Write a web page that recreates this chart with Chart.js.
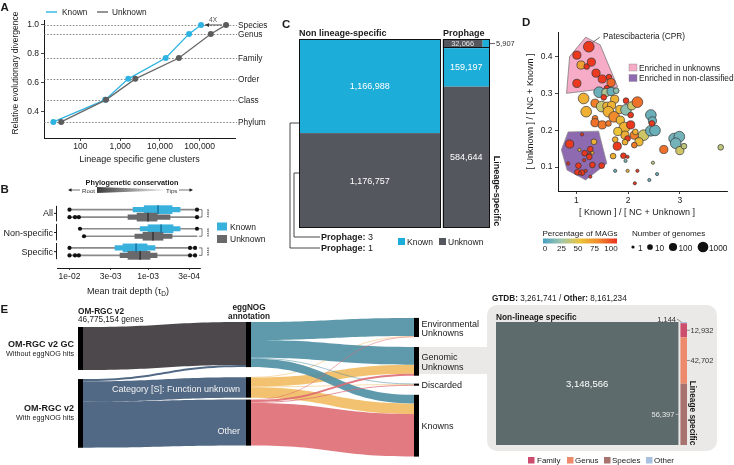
<!DOCTYPE html>
<html><head><meta charset="utf-8">
<script src="https://cdn.jsdelivr.net/npm/chart.js@4.4.1/dist/chart.umd.min.js"></script>
<style>
html,body{margin:0;padding:0;background:#fff;}
#wrap{position:relative;width:734px;height:465px;overflow:hidden;background:#fff;}
#wrap canvas,#wrap svg{position:absolute;left:0;top:0;}
.bg{position:absolute;background:#ebe9e7;}
</style></head><body>
<div id="wrap">
<div class="bg" style="left:487px;top:305px;width:230px;height:146px;border-radius:10px"></div>
<div class="bg" style="left:419px;top:347px;width:70px;height:27px"></div>
<canvas id="cA" width="734" height="465"></canvas>
<canvas id="cB" width="734" height="465"></canvas>
<canvas id="cC" width="734" height="465"></canvas>
<canvas id="cD" width="734" height="465"></canvas>
<canvas id="cE" width="734" height="465"></canvas>
<canvas id="cE2" width="734" height="465"></canvas>
<svg id="ann" width="734" height="465" xmlns="http://www.w3.org/2000/svg" font-family="'Liberation Sans', Arial, Helvetica, sans-serif"></svg>
</div>
<script>
// ================= DATA =================
// A: rank REDs and lineage-specific gene clusters
const aRanks = ['Phylum','Class','Order','Family','Genus','Species'];
const aRED = [0.331,0.483,0.628,0.772,0.938,1.0];
const aKnownClusters = [21,420,1600,14000,54000,108000];
const aUnknownClusters = [33,440,2400,30000,190000,460000];
const aXTicks = [100,1000,10000,100000];
const aYTicks = [0.4,0.6,0.8,1.0];

// B: mean trait depth letter-value summaries (rows: All K/U, Non-specific K/U, Specific K/U)
const bGroups = ['All','Non-specific','Specific'];
const bSeries = ['Known','Unknown'];
const bWhiskerLo = [2.38e-4,2.38e-4,2.38e-4,2.38e-4,2.52e-4,2.52e-4];
const bWhiskerHi = [1.0e-2,1.0e-2,7.35e-3,6.53e-3,1.0e-2,1.0e-2];
const bOuterLo = [3.91e-4,5.25e-4,3.91e-4,4.94e-4,8.15e-4,7.68e-4];
const bOuterHi = [1.55e-3,1.80e-3,1.26e-3,1.47e-3,2.63e-3,2.27e-3];
const bBoxLo = [4.94e-4,7.68e-4,4.81e-4,6.44e-4,1.03e-3,9.43e-4];
const bBoxHi = [1.12e-3,1.38e-3,1.0e-3,1.16e-3,2.08e-3,1.80e-3];
const bMedian = [7.46e-4,1.0e-3,6.83e-4,8.64e-4,1.42e-3,1.26e-3];
const bOutliers = [[1.0e-2,2.38e-4],[1.0e-2,8.5e-3,7.6e-3,2.38e-4],[7.35e-3,2.38e-4],[6.53e-3],[1.0e-2,2.92e-4,2.52e-4],[1.0e-2,8.5e-3,7.6e-3,2.92e-4,2.52e-4]];
const bXTicks = [1e-2,3e-3,1e-3,3e-4];

// C: mosaic counts
const cColumns = ['Non lineage-specific','Lineage-specific'];
const cKnown = [1166988,159197];
const cUnknown = [1176757,584644];
const cProphageUnknown = 32066;
const cProphageKnown = 5907;

// D: bubble data
const dX = [1.24,1.01,1.09,1.20,1.29,1.38,1.50,1.63,1.67,1.01,1.59,
1.44,1.57,1.67,1.77,1.14,1.53,1.74,1.19,1.36,1.49,1.59,1.68,1.62,1.73,1.84,1.96,1.96,2.07,2.18,1.36,1.36,1.50,1.62,1.85,1.93,2.05,2.05,1.94,1.80,2.12,2.30,2.44,2.47,2.44,2.52,2.46,2.14,2.21,2.12,1.99,1.94,1.79,1.75,2.69,2.89,2.99,2.92,3.00,3.08,3.79,1.71,1.91,1.99,1.95,2.48,1.75,1.99,2.18,2.56,2.41,2.13,
0.87,1.11,1.06,1.16,1.27,1.34,1.25,1.31,1.25,1.15,0.84,1.04,1.31,1.49,1.02,1.11,1.18,1.07,1.27];
const dY = [0.428,0.405,0.378,0.374,0.386,0.356,0.340,0.345,0.330,0.328,0.315,
0.304,0.303,0.306,0.308,0.287,0.290,0.285,0.251,0.274,0.265,0.266,0.268,0.251,0.237,0.257,0.281,0.256,0.267,0.277,0.233,0.221,0.215,0.219,0.228,0.208,0.215,0.242,0.187,0.197,0.187,0.187,0.242,0.226,0.199,0.200,0.219,0.196,0.169,0.160,0.178,0.168,0.157,0.175,0.148,0.178,0.183,0.165,0.145,0.157,0.154,0.130,0.131,0.128,0.117,0.112,0.090,0.090,0.090,0.081,0.065,0.056,
0.163,0.189,0.147,0.138,0.149,0.169,0.135,0.139,0.128,0.119,0.110,0.104,0.106,0.104,0.086,0.085,0.090,0.083,0.074];
const dPctMAGs = [98,98,65,100,98,98,98,98,85,98,100,
10,30,10,20,58,98,58,58,78,38,58,58,58,75,55,98,20,40,82,80,82,80,80,55,58,98,98,60,50,78,40,10,10,10,10,98,58,55,80,98,58,98,58,82,12,12,12,40,35,35,58,98,100,15,35,10,58,98,10,10,98,
98,98,58,98,98,58,98,58,98,98,98,98,98,98,98,98,98,98,98];
const dGenomes = [1000,100,100,10,100,100,100,10,100,100,10,
1000,100,100,10,1000,10,100,1000,100,1000,100,100,1000,1000,100,10,1000,100,1000,10,100,100,10,100,1000,100,10,100,100,100,1000,1000,100,1000,1000,10,10,100,10,10,10,100,10,100,1000,1000,1000,100,10,10,10,10,1,1,1,1,1,1,1,1,1,
100,1,1,10,10,10,1,1,10,1,1,10,10,10,10,10,1,1,1];
const dUnknownHullX = [1.18,1.46,1.80,0.81,0.87];
const dUnknownHullY = [0.454,0.433,0.318,0.301,0.401];
const dNCHullX = [0.84,1.43,1.59,1.18,0.82,0.71];
const dNCHullY = [0.196,0.198,0.110,0.065,0.092,0.147];
const dXTicks = [1,2,3];
const dYTicks = [0.1,0.2,0.3,0.4];

// E: sankey (millions of genes)
const eNodeNames = ['OM-RGC v2 GC','OM-RGC v2','No eggNOG hit','Category [S]: Function unknown','Other','Environmental Unknowns','Genomic Unknowns','Discarded','Knowns'];
const eNodeStage = [0,0,1,1,1,2,2,2,2];
const eFlowFrom = [0,1,1,1, 2,2,2,2, 3,3,3,3, 4,4,4,4];
const eFlowTo   = [2,2,3,4, 5,6,7,8, 5,6,7,8, 5,6,7,8];
const eFlowMillions = [18.0,0.9,8.6,19.28, 7.6,7.4,0.3,3.6, 0.2,3.8,0.2,4.4, 0.2,0.8,0.4,17.88];

// E2: GTDB mosaic
const e2NonLineage = 3148566;
const e2Ranks = ['Other','Family','Genus','Species'];
const e2Lineage = [1144,12932,42702,56397];
const e2OtherTotal = 8161234;

// ================= STYLE / LAYOUT =================
const FONT = "'Liberation Sans', Arial, Helvetica, sans-serif";
Chart.defaults.font.family = FONT;
Chart.defaults.font.size = 8.5;
Chart.defaults.color = '#1a1a1a';
const W = 734, H = 465;
const INK = '#1a1a1a';
const KNOWN_A = '#2db3e2', UNK_A = '#686868';
const KNOWN_B = '#38b1dd', UNK_B = '#69696c', KNOWN_B_MED = '#1c7aa3', UNK_B_MED = '#3a3a3c';
const KNOWN_C = '#1dadd9', UNK_C = '#55575f';
const E_FLOW_COLORS = ['#3a3437','#3e5977','#4e8fa3','#f1bb61','#de6b73'];
const E2_COLORS = {Other:'#a9c0e0', Family:'#cc4d6e', Genus:'#ec8a6b', Species:'#a8736f', Non:'#5d6b6c'};
const MOSAIC_GAP = 0.0106;
const B_STEP = 2.55;
const eLayout = {stageStart:[11.3,9.2,7.5], stageGaps:[[3.8],[4.2,0.8],[4.2,3.3,3.8]], nodeWidth:5, drawOrder:[0,1,3,2,4]};
const pctStops = [[0,[72,160,196]],[25,[160,198,170]],[50,[236,196,56]],[75,[241,138,45]],[100,[233,50,30]]];
function pctColor(p){
  for (let i=1;i<pctStops.length;i++){
    if (p<=pctStops[i][0]){
      const [p0,c0]=pctStops[i-1],[p1,c1]=pctStops[i]; const t=(p-p0)/(p1-p0);
      return 'rgb('+c0.map((c,j)=>Math.round(c+(c1[j]-c)*t)).join(',')+')';
    }
  }
  return 'rgb(233,50,30)';
}
const sizeR = n => 1.6 + 1.25*Math.log10(n);
const fmtN = v => v.toLocaleString('en-US');
function fmtE(v){ const [m,e]=v.toExponential(0).split('e'); const n=parseInt(e,10); return m+'e'+(n<0?'-':'+')+String(Math.abs(n)).padStart(2,'0'); }
function pad(x0,y0,x1,y1,lw,bh){ return {left:x0-(lw||0), top:y0, right:W-x1, bottom:H-y1-(bh||0)}; }
const base = {responsive:false, animation:false, devicePixelRatio:1, events:[], plugins:{legend:{display:false}, tooltip:{enabled:false}}};
const gridT = {display:true, drawOnChartArea:false, drawTicks:true, tickLength:3, color:INK, lineWidth:0.8};
const borderT = {display:true, color:INK, width:1};

// ================= A =================
const aPlugin = {
  id:'aLines',
  beforeDatasetsDraw(ch){
    const {ctx, chartArea:ca, scales:{y}} = ch;
    ctx.save(); ctx.strokeStyle='#6a6a6a'; ctx.lineWidth=0.8; ctx.setLineDash([1.6,1.6]);
    aRED.forEach(v=>{ const py=Math.round(y.getPixelForValue(v))+0.5; ctx.beginPath(); ctx.moveTo(ca.left,py); ctx.lineTo(ca.right+2,py); ctx.stroke(); });
    ctx.restore();
  },
  afterDatasetsDraw(ch){
    const {ctx, scales:{x,y}} = ch; const n=aRED.length-1;
    const py=y.getPixelForValue(aRED[n]);
    const x1=x.getPixelForValue(aKnownClusters[n])+4, x2=x.getPixelForValue(aUnknownClusters[n])-4;
    ctx.save(); ctx.strokeStyle='#333'; ctx.fillStyle='#333'; ctx.lineWidth=0.8;
    ctx.beginPath(); ctx.moveTo(x1,py); ctx.lineTo(x2,py); ctx.stroke();
    ctx.beginPath(); ctx.moveTo(x1,py); ctx.lineTo(x1+4,py-2); ctx.lineTo(x1+4,py+2); ctx.closePath(); ctx.fill();
    ctx.restore();
  }
};
const chartA = new Chart(document.getElementById('cA'), {
  type:'scatter',
  data:{datasets:[
    {label:'Unknown', data:aUnknownClusters.map((x,i)=>({x,y:aRED[i]})), showLine:true, borderColor:UNK_A, backgroundColor:'#5c5c5c', borderWidth:1.3, pointRadius:3, pointBorderWidth:0},
    {label:'Known', data:aKnownClusters.map((x,i)=>({x,y:aRED[i]})), showLine:true, borderColor:KNOWN_A, backgroundColor:KNOWN_A, borderWidth:1.3, pointRadius:3, pointBorderWidth:0}
  ]},
  options:Object.assign({}, base, {
    layout:{padding:pad(44,20,235,138,44,27)},
    scales:{
      x:{type:'logarithmic', min:12.2, max:771000, afterFit:s=>{s.height=27;}, afterBuildTicks:s=>{s.ticks=aXTicks.map(v=>({value:v}));},
         ticks:{callback:v=>fmtN(v), padding:1, autoSkip:false, maxRotation:0, font:{size:8.5}}, grid:gridT, border:borderT,
         title:{display:true, text:'Lineage specific gene clusters', font:{size:9}, padding:0}},
      y:{type:'linear', min:0.22, max:1.034, afterFit:s=>{s.width=44;}, afterBuildTicks:s=>{s.ticks=aYTicks.map(v=>({value:v}));},
         ticks:{callback:v=>v.toFixed(1), padding:2, font:{size:8.5}}, grid:gridT, border:borderT}
    }
  }),
  plugins:[aPlugin]
});

// ================= B =================
const bRowY = []; for (let g=0; g<bGroups.length; g++) for (let k=0; k<bSeries.length; k++) bRowY.push(g*B_STEP+k);
const bFill = bRowY.map((_,i)=> i%2===0 ? KNOWN_B : UNK_B);
const bMedFill = bRowY.map((_,i)=> i%2===0 ? KNOWN_B_MED : UNK_B_MED);
const bPlugin = {
  id:'bAxis',
  afterDraw(ch){
    const {ctx, chartArea:ca, scales:{y}} = ch;
    ctx.save(); ctx.strokeStyle=INK; ctx.lineWidth=1;
    bGroups.forEach((g,i)=>{
      const y0 = y.getPixelForValue(i===0 ? -0.5 : i*B_STEP-0.65);
      const y1 = y.getPixelForValue(i===bGroups.length-1 ? y.max : i*B_STEP+1.55);
      ctx.beginPath(); ctx.moveTo(ca.left-0.5,y0); ctx.lineTo(ca.left-0.5,y1); ctx.stroke();
      const yc = y.getPixelForValue(i*B_STEP+0.5);
      ctx.beginPath(); ctx.moveTo(ca.left-3,yc); ctx.lineTo(ca.left,yc); ctx.stroke();
    });
    ctx.restore();
  }
};
const chartB = new Chart(document.getElementById('cB'), {
  type:'bar',
  data:{datasets:[
    {type:'scatter', data:bOutliers.flatMap((arr,i)=>arr.map(v=>({x:v,y:bRowY[i]}))), pointRadius:2.1, backgroundColor:'#111', pointBorderWidth:0, order:1},
    {data:bMedian.map((m,i)=>({x:[m*0.985,m/0.985],y:bRowY[i]})), backgroundColor:bMedFill, barThickness:8, grouped:false, order:2},
    {data:bBoxLo.map((v,i)=>({x:[v,bBoxHi[i]],y:bRowY[i]})), backgroundColor:bFill, barThickness:8, grouped:false, order:3},
    {data:bOuterLo.map((v,i)=>({x:[v,bOuterHi[i]],y:bRowY[i]})), backgroundColor:bFill, barThickness:4.5, grouped:false, order:4},
    {data:bWhiskerLo.map((v,i)=>({x:[v,bWhiskerHi[i]],y:bRowY[i]})), backgroundColor:'#8a8a8a', barThickness:1, grouped:false, order:5}
  ]},
  options:Object.assign({}, base, {
    indexAxis:'y',
    layout:{padding:pad(57,197,200,268,0,16)},
    scales:{
      x:{type:'logarithmic', reverse:true, min:2.18e-4, max:0.01442, afterFit:s=>{s.height=16;}, afterBuildTicks:s=>{s.ticks=bXTicks.map(v=>({value:v}));},
         ticks:{callback:v=>fmtE(v), padding:1.5, autoSkip:false, maxRotation:0, font:{size:8.5}}, grid:Object.assign({},gridT,{tickLength:2}), border:borderT},
      y:{type:'linear', min:-0.5, max:6.6, reverse:true, display:false}
    }
  }),
  plugins:[bPlugin]
});

// ================= C =================
function cCells(){
  const T1=cKnown[0]+cUnknown[0], P=cProphageUnknown+cProphageKnown, T2=cKnown[1]+cUnknown[1]+P;
  const gap=MOSAIC_GAP*(T1+T2), x2=T1+gap, xp=x2+T2*cProphageUnknown/P;
  return {xmax:x2+T2, cols:[[0,T1,0,1],[x2,x2+T2,0,1],[x2,x2+T2,0,P/T2]], cells:[
    {x0:0,x1:T1,y0:0,y1:cKnown[0]/T1,c:KNOWN_C,v:cKnown[0]},
    {x0:0,x1:T1,y0:cKnown[0]/T1,y1:1,c:UNK_C,v:cUnknown[0]},
    {x0:x2,x1:xp,y0:0,y1:P/T2,c:UNK_C,v:cProphageUnknown,small:true},
    {x0:xp,x1:x2+T2,y0:0,y1:P/T2,c:KNOWN_C,v:cProphageKnown,out:true},
    {x0:x2,x1:x2+T2,y0:P/T2,y1:(P+cKnown[1])/T2,c:KNOWN_C,v:cKnown[1]},
    {x0:x2,x1:x2+T2,y0:(P+cKnown[1])/T2,y1:1,c:UNK_C,v:cUnknown[1]}
  ]};
}
const CG = cCells();
function mosaicPlugin(id, geo, strokeCols){
  return {id, afterDatasetsDraw(ch){
    const {ctx, scales:{x,y}} = ch;
    ctx.save();
    geo.cells.forEach(c=>{
      const px0=x.getPixelForValue(c.x0), px1=x.getPixelForValue(c.x1), py0=y.getPixelForValue(c.y0), py1=y.getPixelForValue(c.y1);
      ctx.fillStyle=c.c; ctx.fillRect(px0,py0,px1-px0,py1-py0);
    });
    if (strokeCols){
      ctx.strokeStyle='#111'; ctx.lineWidth=1;
      geo.cols.forEach(c=>{
        const px0=x.getPixelForValue(c[0]), px1=x.getPixelForValue(c[1]), py0=y.getPixelForValue(c[2]), py1=y.getPixelForValue(c[3]);
        ctx.strokeRect(Math.round(px0)+0.5,Math.round(py0)+0.5,Math.round(px1-px0)-1,Math.round(py1-py0)-1);
      });
    }
    ctx.restore();
  }};
}
const chartC = new Chart(document.getElementById('cC'), {
  type:'scatter', data:{datasets:[]},
  options:Object.assign({}, base, {layout:{padding:pad(299,39,490,228)},
    scales:{x:{type:'linear',min:0,max:CG.xmax,display:false}, y:{type:'linear',min:0,max:1,reverse:true,display:false}}}),
  plugins:[mosaicPlugin('cMosaic', CG, true)]
});

// ================= D =================
const dPlugin = {
  id:'dHulls',
  beforeDatasetsDraw(ch){
    const {ctx, scales:{x,y}} = ch;
    const poly=(xs,ys,fill,stroke)=>{ ctx.beginPath(); xs.forEach((v,i)=>{ const px=x.getPixelForValue(v), py=y.getPixelForValue(ys[i]); i?ctx.lineTo(px,py):ctx.moveTo(px,py);}); ctx.closePath(); ctx.fillStyle=fill; ctx.fill(); ctx.strokeStyle=stroke; ctx.lineWidth=0.7; ctx.stroke(); };
    ctx.save();
    poly(dUnknownHullX,dUnknownHullY,'#f6abc6','#6e6e6e');
    poly(dNCHullX,dNCHullY,'#8e6ab0','#8a8a8a');
    ctx.restore();
  },
  afterDatasetsDraw(ch){
    const {ctx, scales:{x,y}} = ch;
    const px=x.getPixelForValue(dX[0]), py=y.getPixelForValue(dY[0]);
    ctx.save(); ctx.strokeStyle='#333'; ctx.lineWidth=0.7; ctx.beginPath(); ctx.moveTo(px+3.5,py-4); ctx.lineTo(px+11,py-9.5); ctx.stroke(); ctx.restore();
  }
};
const chartD = new Chart(document.getElementById('cD'), {
  type:'bubble',
  data:{datasets:[{data:dX.map((x,i)=>({x,y:dY[i],r:sizeR(dGenomes[i])})), backgroundColor:dPctMAGs.map(pctColor), borderColor:'#333', borderWidth:0.7}]},
  options:Object.assign({}, base, {
    layout:{padding:pad(558,32,734,191,33,14)},
    scales:{
      x:{type:'linear', min:0.645, max:3.93, afterFit:s=>{s.height=14;}, afterBuildTicks:s=>{s.ticks=dXTicks.map(v=>({value:v}));},
         ticks:{callback:v=>String(v), padding:1.5, font:{size:8.5}, maxRotation:0}, grid:gridT, border:borderT},
      y:{type:'linear', min:0.035, max:0.468, afterFit:s=>{s.width=33;}, afterBuildTicks:s=>{s.ticks=dYTicks.map(v=>({value:v}));},
         ticks:{callback:v=>v.toFixed(1), padding:2.5, font:{size:8.5}}, grid:gridT, border:borderT,
         title:{display:true, text:'[ Unknown ] / [ NC + Known ]', font:{size:9}, padding:0}}
    }
  }),
  plugins:[dPlugin]
});

// ================= E (sankey) =================
function sankeyGeometry(){
  const n=eNodeNames.length, inV=new Array(n).fill(0), outV=new Array(n).fill(0);
  eFlowFrom.forEach((f,i)=>{ outV[f]+=eFlowMillions[i]; inV[eFlowTo[i]]+=eFlowMillions[i]; });
  const val=inV.map((v,i)=>Math.max(v,outV[i]));
  const top=[], cursor=eLayout.stageStart.slice(), seen=cursor.map(()=>0);
  for (let i=0;i<n;i++){ const s=eNodeStage[i]; top[i]=cursor[s]; cursor[s]+=val[i]+(eLayout.stageGaps[s][seen[s]]||0); seen[s]++; }
  const outOff=top.slice(), inOff=top.slice();
  const flows=eFlowFrom.map((f,i)=>{ const t=eFlowTo[i], v=eFlowMillions[i]; const fl={f,t,v,y0:outOff[f],y1:inOff[t]}; outOff[f]+=v; inOff[t]+=v; return fl; });
  return {val, top, flows};
}
const EG = sankeyGeometry();
const ePlugin = {
  id:'sankey',
  afterDatasetsDraw(ch){
    const {ctx, scales:{x,y}} = ch; const nw=eLayout.nodeWidth;
    ctx.save();
    eLayout.drawOrder.forEach(src=>{
      EG.flows.filter(f=>f.f===src).forEach(f=>{
        const xa=x.getPixelForValue(eNodeStage[f.f])+nw, xb=x.getPixelForValue(eNodeStage[f.t]), xm=(xa+xb)/2;
        const ya0=y.getPixelForValue(f.y0), ya1=y.getPixelForValue(f.y0+f.v), yb0=y.getPixelForValue(f.y1), yb1=y.getPixelForValue(f.y1+f.v);
        const col=E_FLOW_COLORS[f.f];
        if (ya1-ya0 < 1.3){
          const yc0=(ya0+ya1)/2, yc1=(yb0+yb1)/2;
          ctx.globalAlpha=0.75; ctx.strokeStyle=col; ctx.lineWidth=Math.max(0.7,ya1-ya0);
          ctx.beginPath(); ctx.moveTo(xa,yc0); ctx.bezierCurveTo(xm,yc0,xm,yc1,xb,yc1); ctx.stroke();
        } else {
          ctx.globalAlpha=0.9; ctx.fillStyle=col;
          ctx.beginPath(); ctx.moveTo(xa,ya0); ctx.bezierCurveTo(xm,ya0,xm,yb0,xb,yb0); ctx.lineTo(xb,yb1); ctx.bezierCurveTo(xm,yb1,xm,ya1,xa,ya1); ctx.closePath(); ctx.fill();
        }
      });
    });
    ctx.globalAlpha=1; ctx.fillStyle='#000';
    eNodeNames.forEach((nm,i)=>{
      const px=x.getPixelForValue(eNodeStage[i]), py0=y.getPixelForValue(EG.top[i]), py1=y.getPixelForValue(EG.top[i]+EG.val[i]);
      ctx.fillRect(px,py0,nw,Math.max(1.2,py1-py0));
    });
    ctx.restore();
  }
};
const chartE = new Chart(document.getElementById('cE'), {
  type:'scatter', data:{datasets:[]},
  options:Object.assign({}, base, {layout:{padding:pad(78,300,414,460)},
    scales:{x:{type:'linear',min:0,max:2,display:false}, y:{type:'linear',min:0,max:67,reverse:true,display:false}}}),
  plugins:[ePlugin]
});

// ================= E2 (mosaic) =================
function e2Cells(){
  const T1=e2NonLineage, T2=e2Lineage.reduce((a,b)=>a+b,0), gap=MOSAIC_GAP*(T1+T2), x2=T1+gap;
  const cells=[{x0:0,x1:T1,y0:0,y1:1,c:E2_COLORS.Non,v:T1,name:'Non'}]; let acc=0;
  e2Ranks.forEach((r,i)=>{ cells.push({x0:x2,x1:x2+T2,y0:acc/T2,y1:(acc+e2Lineage[i])/T2,c:E2_COLORS[r],v:e2Lineage[i],name:r}); acc+=e2Lineage[i]; });
  return {xmax:x2+T2, cols:[], cells};
}
const E2G = e2Cells();
const chartE2 = new Chart(document.getElementById('cE2'), {
  type:'scatter', data:{datasets:[]},
  options:Object.assign({}, base, {layout:{padding:pad(496,322,687,445)},
    scales:{x:{type:'linear',min:0,max:E2G.xmax,display:false}, y:{type:'linear',min:0,max:1,reverse:true,display:false}}}),
  plugins:[mosaicPlugin('e2Mosaic', E2G, false)]
});

// ================= SVG annotations (text) =================
const NS='http://www.w3.org/2000/svg';
const svg=document.getElementById('ann');
function el(tag,attrs,parent){ const e=document.createElementNS(NS,tag); for (const k in attrs) e.setAttribute(k,attrs[k]); (parent||svg).appendChild(e); return e; }
function T(x,y,s,o={}){ const a={x,y,'font-size':o.size||8.5,fill:o.fill||INK,'text-anchor':o.anchor||'start','dominant-baseline':'central'}; if(o.bold) a['font-weight']='bold'; if(o.rot) a.transform='rotate('+o.rot+' '+x+' '+y+')'; const t=el('text',a); if(o.html) t.innerHTML=s; else t.textContent=s; return t; }
function Ln(x1,y1,x2,y2,o={}){ return el('line',{x1,y1,x2,y2,stroke:o.stroke||INK,'stroke-width':o.w||0.8}); }
function Pth(d,o={}){ return el('path',{d,fill:o.fill||'none',stroke:o.stroke||'none','stroke-width':o.w||0.8}); }
const defs=el('defs',{});
function grad(id,stops){ const g=el('linearGradient',{id,x1:'0',x2:'1',y1:'0',y2:'0'},defs); stops.forEach(([o,c])=>el('stop',{offset:o,'stop-color':c},g)); }
grad('rootGrad',[['0','#3c3c3c'],['1','#f2f2f2']]);
grad('pctGrad',pctStops.map(s=>[String(s[0]/100),'rgb('+s[1].join(',')+')']));

// panel letters
T(0.5,7,'A',{bold:true,size:11.5}); T(0.5,189,'B',{bold:true,size:11.5}); T(282,24,'C',{bold:true,size:11.5}); T(522,22,'D',{bold:true,size:11.5}); T(0.5,309,'E',{bold:true,size:11.5});

// A
Ln(46,12,57,12,{stroke:KNOWN_A,w:1.4}); T(62,12,'Known',{size:8.3});
Ln(97,12,108,12,{stroke:UNK_A,w:1.4}); T(112,12,'Unknown',{size:8.3});
T(15,73,'Relative evolutionary divergence',{size:8.5,anchor:'middle',rot:-90});
aRanks.forEach((r,i)=>T(238,chartA.scales.y.getPixelForValue(aRED[i]),r,{size:8.3}));
T(213,19,'4X',{size:6.5,fill:'#555',anchor:'middle'});

// B
const bY=v=>chartB.scales.y.getPixelForValue(v);
T(132,182,'Phylogenetic conservation',{bold:true,size:7.3,anchor:'middle'});
Ln(70,190,80,190,{w:0.6}); Pth('M68,190 L71.5,188.3 L71.5,191.7 Z',{fill:INK});
T(82,190,'Root',{size:6.2,fill:'#333'});
Pth('M97,187 L165,189.4 L165,190.6 L97,193 Z',{fill:'url(#rootGrad)'});
T(166,190,'Tips',{size:6.2,fill:'#333'});
Ln(179,190,190,190,{w:0.6}); Pth('M193,190 L189.5,188.3 L189.5,191.7 Z',{fill:INK});
bGroups.forEach((g,i)=>{
  T(53,bY(i*B_STEP+0.5),g,{anchor:'end',size:9});
  const y0=bY(i*B_STEP), y1=bY(i*B_STEP+1);
  Pth('M199,'+y0+' L202,'+y0+' L202,'+y1+' L199,'+y1,{stroke:'#444',w:0.7});
  T(206.5,(y0+y1)/2,'****',{size:5.5,anchor:'middle',rot:90});
});
el('rect',{x:217,y:222.5,width:10,height:8,fill:KNOWN_B}); T(230,226.5,'Known',{size:8.5});
el('rect',{x:217,y:235,width:10,height:8,fill:UNK_B}); T(230,239,'Unknown',{size:8.5});
T(128,291,'Mean trait depth (τ<tspan font-size="6.5" dy="2">D</tspan><tspan dy="-2">)</tspan>',{size:9,anchor:'middle',html:true});

// C
const cx=v=>chartC.scales.x.getPixelForValue(v), cy=v=>chartC.scales.y.getPixelForValue(v);
T(299,33,cColumns[0],{bold:true,size:9});
T(443,33,'Prophage',{bold:true,size:9});
CG.cells.forEach(c=>{
  if (c.out) return;
  T((cx(c.x0)+cx(c.x1))/2,(cy(c.y0)+cy(c.y1))/2,fmtN(c.v),{anchor:'middle',fill:c.small?'#e6e6e6':'#fff',size:c.small?7.5:9});
});
{ const pk=CG.cells[3]; const yy=(cy(pk.y0)+cy(pk.y1))/2; Ln(cx(pk.x1),yy,cx(pk.x1)+5,yy,{w:0.7}); T(cx(pk.x1)+6,yy,fmtN(pk.v),{size:7.5,fill:'#333'}); }
T(497,191,cColumns[1],{bold:true,size:9,anchor:'middle',rot:90});
Pth('M299,123 L290,123 L290,248 L320,248',{stroke:INK,w:0.8});
Pth('M299,173 L294,173 L294,237 L320,237',{stroke:INK,w:0.8});
T(321,237,'<tspan font-weight="bold">Prophage:</tspan> 3',{size:9,html:true});
T(321,248,'<tspan font-weight="bold">Prophage:</tspan> 1',{size:9,html:true});
el('rect',{x:398,y:238,width:7,height:7,fill:KNOWN_C}); T(407,241.5,'Known',{size:8.5});
el('rect',{x:439,y:238,width:7,height:7,fill:UNK_C}); T(448,241.5,'Unknown',{size:8.5});

// D
T(637,212,'[ Known ] / [ NC + Unknown ]',{size:9,anchor:'middle'});
T(603,36,'Patescibacteria (CPR)',{size:8.3});
el('rect',{x:629,y:64,width:8,height:7,fill:'#f6abc6',stroke:'#888','stroke-width':0.4}); T(639,68,'Enriched in unknowns',{size:8.3});
el('rect',{x:629,y:74.5,width:8,height:7,fill:'#8e6ab0',stroke:'#888','stroke-width':0.4}); T(639,78,'Enriched in non-classified',{size:8.3});
T(580,233,'Percentage of MAGs',{size:8.1,anchor:'middle'});
el('rect',{x:543,y:238.5,width:74,height:5,fill:'url(#pctGrad)'});
[0,25,50,75,100].forEach((p,i)=>T(545+i*16.5,248,String(p),{size:8,anchor:'middle'}));
T(632,233,'Number of genomes',{size:8.1});
[[1,633,638],[10,650,655],[100,673,678.5],[1000,703,709]].forEach(([n,x,tx])=>{ el('circle',{cx:x,cy:247,r:sizeR(n),fill:'#111'}); T(tx,247.5,String(n),{size:8.3}); });

// E
T(78,311,'OM-RGC v2',{bold:true,size:8.3});
T(78,319.5,'46,775,154 genes',{size:8.2});
T(74,344,'OM-RGC v2 GC',{bold:true,size:9,anchor:'end'});
T(74,353,'Without eggNOG hits',{size:7.2,anchor:'end'});
T(74,408,'OM-RGC v2',{bold:true,size:9,anchor:'end'});
T(74,417,'With eggNOG hits',{size:7.2,anchor:'end'});
T(249,307.5,'eggNOG',{bold:true,size:8.2,anchor:'middle'});
T(249,316,'annotation',{bold:true,size:8.2,anchor:'middle'});
T(240,389,'Category [S]: Function unknown',{size:9,anchor:'end',fill:'#f2f2f2'});
T(240,430.5,'Other',{size:9,anchor:'end',fill:'#f2f2f2'});
T(421.5,323.5,'Environmental',{size:9}); T(421.5,333,'Unknowns',{size:9});
T(421.5,357,'Genomic',{size:9}); T(421.5,366.5,'Unknowns',{size:9});
T(421.5,385,'Discarded',{size:9});
T(421.5,426,'Knowns',{size:9});

// E2
const ex=v=>chartE2.scales.x.getPixelForValue(v), ey=v=>chartE2.scales.y.getPixelForValue(v);
const e2Total=e2NonLineage+e2Lineage.reduce((a,b)=>a+b,0);
T(492,298,'<tspan font-weight="bold">GTDB:</tspan> '+fmtN(e2Total)+' / <tspan font-weight="bold">Other:</tspan> '+fmtN(e2OtherTotal),{size:8.2,html:true});
T(496,317,'Non-lineage specific',{bold:true,size:8.3});
{ const c=E2G.cells[0]; T((ex(c.x0)+ex(c.x1))/2,(ey(c.y0)+ey(c.y1))/2,fmtN(c.v),{anchor:'middle',fill:'#fff',size:9.5}); }
E2G.cells.slice(1).forEach(c=>{
  const xl=ex(c.x0), xr=ex(c.x1), ym=(ey(c.y0)+ey(c.y1))/2;
  if (c.name==='Other'){ Ln(677,ey(c.y0)-3,xl+1,ey(c.y0),{w:0.6,stroke:'#555'}); T(676,ey(c.y0)-3,fmtN(c.v),{anchor:'end',size:7.5,fill:'#333'}); }
  else if (c.name==='Species'){ Ln(xl-5,ym,xl,ym,{w:0.6,stroke:'#ddd'}); T(xl-6,ym,fmtN(c.v),{anchor:'end',size:7.5,fill:'#e8e8e8'}); }
  else { Ln(xr,ym,xr+3,ym,{w:0.6,stroke:'#555'}); T(xr+3.5,ym,fmtN(c.v),{size:7.5,fill:'#333'}); }
});
T(693,413,'Lineage specific',{bold:true,size:8.3,anchor:'middle',rot:90});
[['Family',528,537],['Genus',567,575],['Species',604,612],['Other',646,654]].forEach(([r,x,tx])=>{ el('rect',{x,y:457,width:6.5,height:6.5,fill:E2_COLORS[r]}); T(tx,460.5,r,{size:8}); });
</script>
</body></html>
